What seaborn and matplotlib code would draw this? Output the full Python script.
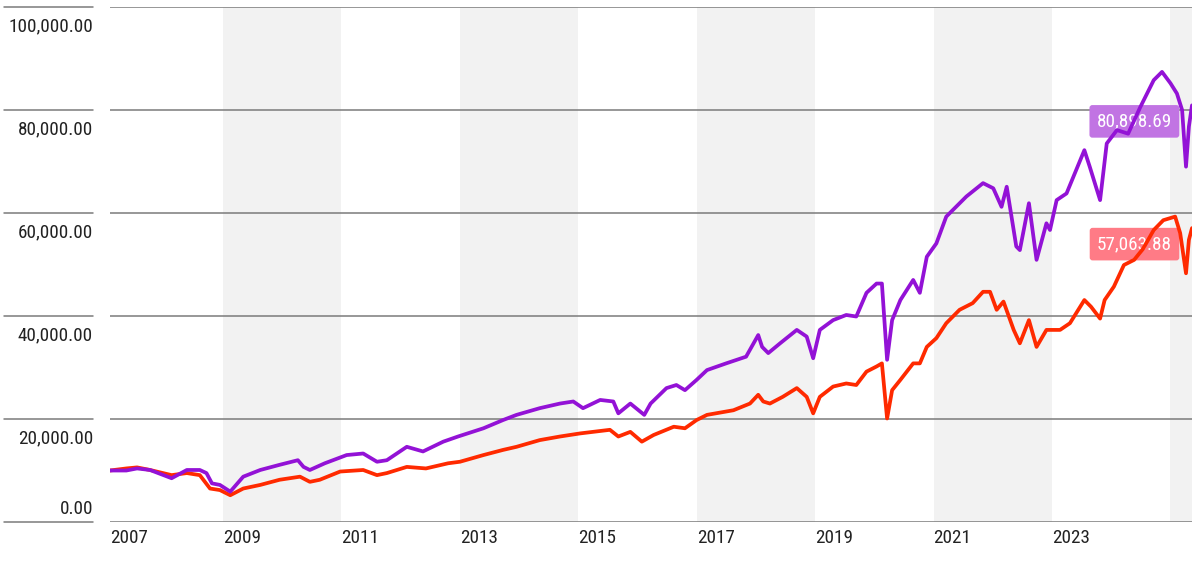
import matplotlib
matplotlib.use("Agg")
import matplotlib.pyplot as plt
import matplotlib.transforms as mtransforms
from matplotlib import font_manager as fm
import seaborn as sns
import pandas as pd

# ---------------- data (values in thousands) ----------------
purple_dates = [
    "2007-02-03", "2007-05-15", "2007-07-20", "2007-10-08", "2008-02-18", "2008-05-22",
    "2008-08-10", "2008-09-20", "2008-10-24", "2008-12-12", "2009-02-14", "2009-05-05",
    "2009-08-18", "2009-12-15", "2010-04-07", "2010-05-12", "2010-06-20", "2010-09-20",
    "2011-02-02", "2011-05-15", "2011-08-08", "2011-10-08", "2012-02-08", "2012-05-18",
    "2012-09-20", "2012-12-20", "2013-05-26", "2013-09-24", "2013-12-16", "2014-05-08",
    "2014-09-10", "2014-12-01", "2015-01-30", "2015-05-16", "2015-08-05", "2015-09-05",
    "2015-11-18", "2016-02-12", "2016-03-22", "2016-06-28", "2016-08-28", "2016-10-20",
    "2016-12-31", "2017-03-05", "2017-07-01", "2017-11-01", "2018-01-15", "2018-02-08",
    "2018-03-18", "2018-05-30", "2018-09-10", "2018-11-10", "2018-12-20", "2019-01-30",
    "2019-04-22", "2019-07-12", "2019-09-12", "2019-11-14", "2020-01-15", "2020-02-17",
    "2020-03-20", "2020-04-20", "2020-06-10", "2020-08-28", "2020-10-08", "2020-11-20",
    "2021-01-18", "2021-03-20", "2021-07-22", "2021-11-02", "2022-01-04", "2022-02-24",
    "2022-03-28", "2022-05-26", "2022-06-17", "2022-08-12", "2022-09-28", "2022-11-28",
    "2022-12-20", "2023-01-30", "2023-04-01", "2023-07-20", "2023-08-22", "2023-10-25",
    "2023-12-05", "2024-02-06", "2024-04-15", "2024-06-28", "2024-09-20", "2024-11-10",
    "2025-01-01", "2025-02-10", "2025-03-14", "2025-04-07", "2025-04-25", "2025-05-14",
]
purple_values = [
    10.0, 10.0, 10.4, 10.1, 8.5, 10.1,
    10.1, 9.5, 7.5, 7.2, 5.9, 8.8,
    10.1, 11.1, 12.0, 10.7, 10.1, 11.4,
    13.0, 13.3, 11.7, 12.0, 14.6, 13.7,
    15.6, 16.6, 18.2, 19.8, 20.8, 22.1,
    23.0, 23.4, 22.1, 23.7, 23.4, 21.1,
    23.0, 20.8, 23.0, 26.0, 26.6, 25.6,
    27.6, 29.5, 30.8, 32.1, 36.3, 34.0,
    32.8, 34.7, 37.3, 36.0, 31.8, 37.3,
    39.2, 40.2, 39.9, 44.5, 46.3, 46.3,
    31.5, 39.2, 43.1, 47.0, 44.5, 51.5,
    54.1, 59.3, 63.2, 65.8, 64.8, 61.2,
    65.1, 53.5, 52.8, 61.9, 50.9, 58.0,
    56.7, 62.5, 63.8, 72.2, 69.0, 62.5,
    73.5, 76.1, 75.4, 80.5, 85.8, 87.4,
    85.2, 83.2, 80.0, 69.0, 76.8, 80.89869,
]

red_dates = [
    "2007-02-03", "2007-05-15", "2007-07-20", "2007-10-08", "2008-02-18", "2008-05-22",
    "2008-08-10", "2008-10-12", "2008-12-12", "2009-02-14", "2009-05-05", "2009-08-18",
    "2009-12-15", "2010-04-20", "2010-06-20", "2010-08-20", "2010-12-24", "2011-05-15",
    "2011-08-08", "2011-10-08", "2012-02-08", "2012-06-05", "2012-10-20", "2013-01-01",
    "2013-05-26", "2013-09-24", "2013-12-16", "2014-05-08", "2014-09-10", "2015-01-12",
    "2015-07-15", "2015-09-05", "2015-11-18", "2016-01-28", "2016-04-10", "2016-08-12",
    "2016-10-20", "2016-12-31", "2017-03-05", "2017-08-15", "2017-11-25", "2018-01-15",
    "2018-02-15", "2018-03-28", "2018-06-15", "2018-09-10", "2018-11-10", "2018-12-20",
    "2019-01-30", "2019-04-22", "2019-07-12", "2019-09-12", "2019-11-14", "2020-01-15",
    "2020-02-17", "2020-03-20", "2020-04-20", "2020-06-10", "2020-08-28", "2020-10-08",
    "2020-11-20", "2021-01-18", "2021-03-20", "2021-06-10", "2021-08-30", "2021-11-02",
    "2021-12-15", "2022-01-25", "2022-03-08", "2022-05-10", "2022-06-17", "2022-08-12",
    "2022-09-28", "2022-11-28", "2023-02-20", "2023-04-22", "2023-07-20", "2023-08-30",
    "2023-10-25", "2023-11-22", "2024-01-18", "2024-03-20", "2024-05-22", "2024-07-15",
    "2024-09-20", "2024-11-18", "2025-01-30", "2025-03-02", "2025-04-07", "2025-04-25",
    "2025-05-14",
]
red_values = [
    10.0, 10.4, 10.6, 10.1, 9.1, 9.5,
    9.1, 6.5, 6.2, 5.2, 6.5, 7.2,
    8.2, 8.8, 7.8, 8.2, 9.8, 10.1,
    9.1, 9.5, 10.7, 10.4, 11.4, 11.7,
    13.0, 14.0, 14.6, 15.9, 16.6, 17.2,
    17.9, 16.6, 17.5, 15.6, 16.9, 18.5,
    18.2, 19.8, 20.8, 21.7, 23.0, 24.7,
    23.4, 23.0, 24.3, 26.0, 24.3, 21.1,
    24.3, 26.3, 26.9, 26.6, 29.2, 30.2,
    30.8, 20.1, 25.6, 27.6, 30.8, 30.8,
    34.0, 35.7, 38.6, 41.2, 42.5, 44.7,
    44.7, 41.2, 42.8, 37.3, 34.7, 39.2,
    34.0, 37.3, 37.3, 38.6, 43.1, 41.8,
    39.5, 43.1, 45.7, 49.9, 50.9, 53.0,
    56.7, 58.6, 59.3, 56.1, 48.3, 54.8,
    57.06388,
]

ytick_values = [0, 20000, 40000, 60000, 80000, 100000]
ytick_labels = ["0.00", "20,000.00", "40,000.00", "60,000.00", "80,000.00", "100,000.00"]
xtick_years = [2007, 2009, 2011, 2013, 2015, 2017, 2019, 2021, 2023]
shade_years = [(2009, 2011), (2013, 2015), (2017, 2019), (2021, 2023), (2025, 2027)]

purple = "#9312d6"
red = "#ff2a00"
purple_box = "#c174e3"
red_box = "#ff7b86"
text_color = "#222222"

# ---------------- theme & font ----------------
sns.set_theme(style="white")
plt.rcParams["font.family"] = ["Roboto", "DejaVu Sans"]


def _is_regular(f):
    return f.style == "normal" and f.weight in (400, "normal", "regular", "book")


def pick_font():
    entries = fm.fontManager.ttflist
    tests = [
        lambda f: f.name == "Liberation Sans Narrow",
        lambda f: f.name == "Roboto Condensed",
        lambda f: f.name == "Roboto" and f.stretch == "condensed",
        lambda f: f.name == "Noto Sans" and f.stretch == "condensed",
        lambda f: f.name == "Open Sans" and f.stretch == "condensed",
    ]
    for t in tests:
        for f in entries:
            if t(f) and _is_regular(f):
                return fm.FontProperties(fname=f.fname)
    return fm.FontProperties(family=["Roboto", "DejaVu Sans"])


W, H = 1203, 562
fig = plt.figure(figsize=(W / 100, H / 100), dpi=100)
ax = fig.add_axes([110 / W, 40 / H, 1082 / W, 515 / H])

fp = pick_font()
# choose the size so that "100,000.00" is about as wide as in the reference
renderer = fig.canvas.get_renderer()
probe = fig.text(0, 0, "100,000.00", fontproperties=fp, fontsize=14)
wpx = probe.get_window_extent(renderer=renderer).width
probe.remove()
fsize = min(14.0, 14.0 * 85.0 / wpx)

pdf = pd.DataFrame({"date": pd.to_datetime(purple_dates),
                    "value": [v * 1000 for v in purple_values]})
rdf = pd.DataFrame({"date": pd.to_datetime(red_dates),
                    "value": [v * 1000 for v in red_values]})

x0 = pd.Timestamp("2007-02-03")
x1 = pd.Timestamp("2025-05-14")

for a, b in shade_years:
    ax.axvspan(pd.Timestamp(f"{a}-01-01"), pd.Timestamp(f"{b}-01-01"),
               color="#f2f2f2", lw=0, zorder=0)

for yv in ytick_values:
    ax.axhline(yv, color="#7a7a7a", lw=1.1, zorder=1)
    ax.axhline(yv, xmin=-0.098, xmax=-0.0157, color="#7a7a7a", lw=1.1,
               clip_on=False, zorder=1)

sns.lineplot(data=rdf, x="date", y="value", ax=ax, color=red, lw=2.7, zorder=3)
sns.lineplot(data=pdf, x="date", y="value", ax=ax, color=purple, lw=2.7, zorder=3)

ax.set_xlim(x0, x1)
ax.set_ylim(0, 100000)
for s in ax.spines.values():
    s.set_visible(False)
ax.set_xlabel("")
ax.set_ylabel("")
ax.set_yticks([])

# x tick labels: left aligned at start of each labelled year
xt = [max(pd.Timestamp(f"{y}-01-01"), x0) for y in xtick_years]
ax.set_xticks(xt)
ax.set_xticklabels([str(y) for y in xtick_years], ha="left", color=text_color,
                   fontproperties=fp, fontsize=fsize)
ax.tick_params(axis="x", length=0, pad=5)

# y labels (text under each gridline, bottom one above it)
blend = mtransforms.blended_transform_factory(ax.transAxes, ax.transData)
for yv, lab in zip(ytick_values, ytick_labels):
    dy = -24 if yv > 0 else 8
    tr = mtransforms.offset_copy(blend, fig=fig, x=0, y=dy, units="dots")
    ax.text(-0.0157, yv, lab, transform=tr, ha="right", va="baseline",
            fontproperties=fp, fontsize=fsize, color=text_color)

# end value boxes
for df, box in [(pdf, purple_box), (rdf, red_box)]:
    last = df["value"].iloc[-1]
    ax.annotate(f"{last:,.2f}", xy=(df["date"].iloc[-1], last), xytext=(-20, -7),
                textcoords="offset pixels", ha="right", va="top",
                fontproperties=fp, fontsize=fsize, color="white", zorder=2.5,
                bbox=dict(boxstyle="round,pad=0.38,rounding_size=0.15", fc=box, ec="none"))

fig.savefig("out.png", dpi=100)
